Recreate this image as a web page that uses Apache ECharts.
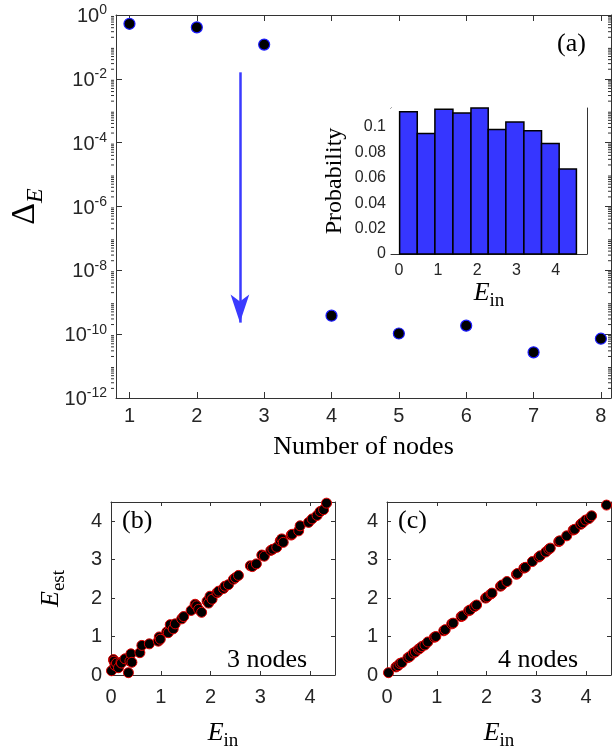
<!DOCTYPE html>
<html>
<head>
<meta charset="utf-8">
<script src="https://cdn.jsdelivr.net/npm/echarts@6/dist/echarts.min.js"></script>
<style>
  html, body { margin: 0; padding: 0; background: #fff; }
  #chart { width: 613px; height: 752px; }
</style>
</head>
<body>
<div id="chart"></div>
<script>
// (a) error vs number of nodes
var nodes = [1, 2, 3, 4, 5, 6, 7, 8];
var deltaE = [0.53, 0.41, 0.118, 3.8e-10, 1.05e-10, 1.85e-10, 2.7e-11, 7.2e-11];
var nodeTicks = [1, 2, 3, 4, 5, 6, 7, 8];
// blue arrow: x position, start and end values
var arrowX = 2.64;
var arrowFrom = 1.6e-2;
var arrowTo = 2.3e-10;

// inset histogram of E_in
var binEdges = [0.02, 0.47, 0.92, 1.38, 1.84, 2.28, 2.73, 3.19, 3.64, 4.09, 4.53];
var binProb = [0.112, 0.095, 0.114, 0.111, 0.115, 0.098, 0.104, 0.097, 0.087, 0.067];
var insetXTicks = [0, 1, 2, 3, 4];
var insetYTicks = [0, 0.02, 0.04, 0.06, 0.08, 0.1];

// (b) 3 nodes
var ein3 = [0.01, 0.05, 0.06, 0.08, 0.11, 0.15, 0.2, 0.21, 0.28, 0.35, 0.38, 0.40, 0.42, 0.58, 0.62, 0.77, 0.95, 0.97, 0.99, 1.12,
    1.15, 1.19, 1.25, 1.29, 1.42, 1.46, 1.61, 1.69, 1.72, 1.76, 1.82, 1.93, 1.96, 1.99, 2.03, 2.13, 2.16, 2.26, 2.29, 2.36,
    2.46, 2.5, 2.56, 2.8, 2.84, 2.92, 3.03, 3.08, 3.21, 3.25, 3.33, 3.4, 3.43, 3.46, 3.62, 3.64, 3.77, 3.8, 3.97, 4.04,
    4.14, 4.2, 4.27, 4.33];
var est3 = [0.11, 0.40, 0.36, 0.25, 0.31, 0.19, 0.33, 0.31, 0.42, 0.06, 0.36, 0.55, 0.33, 0.58, 0.77, 0.81, 0.88, 0.99, 0.93, 1.12,
    1.1, 1.31, 1.2, 1.33, 1.46, 1.52, 1.68, 1.84, 1.8, 1.71, 1.63, 1.92, 1.87, 2.05, 1.97, 2.14, 2.18, 2.25, 2.31, 2.35,
    2.49, 2.53, 2.59, 2.84, 2.82, 2.89, 3.12, 3.09, 3.24, 3.27, 3.32, 3.49, 3.54, 3.45, 3.64, 3.66, 3.75, 3.88, 3.97, 4.06,
    4.15, 4.25, 4.3, 4.47];

// (c) 4 nodes
var ein4 = [0.03, 0.18, 0.22, 0.26, 0.3, 0.42, 0.46, 0.53, 0.57, 0.63, 0.66, 0.7, 0.76, 0.82, 0.95, 0.98, 1.14, 1.17, 1.3, 1.33,
    1.49, 1.52, 1.64, 1.67, 1.76, 1.8, 1.98, 2.01, 2.09, 2.11, 2.28, 2.31, 2.41, 2.6, 2.62, 2.75, 2.78, 2.92, 3.05, 3.08,
    3.19, 3.25, 3.28, 3.45, 3.47, 3.61, 3.74, 3.77, 3.89, 3.93, 3.99, 4.06, 4.11, 4.41];
var est4 = [0.06, 0.21, 0.24, 0.3, 0.32, 0.45, 0.48, 0.57, 0.6, 0.67, 0.69, 0.74, 0.78, 0.86, 0.98, 1.0, 1.15, 1.18, 1.33, 1.35,
    1.52, 1.54, 1.67, 1.69, 1.78, 1.82, 2.0, 2.03, 2.11, 2.13, 2.31, 2.34, 2.43, 2.62, 2.64, 2.78, 2.8, 2.95, 3.07, 3.1,
    3.2, 3.27, 3.3, 3.47, 3.49, 3.62, 3.77, 3.79, 3.92, 3.96, 4.03, 4.07, 4.14, 4.42];
var estTicks = [0, 1, 2, 3, 4];

var axisCol = '#333';
var sans = 'Liberation Sans, Arial, sans-serif';
var serif = 'Liberation Serif, Times New Roman, serif';

var chart = echarts.init(document.getElementById('chart'));

function zip(a, b) {
    var out = [];
    for (var i = 0; i < a.length; i++) out.push([a[i], b[i]]);
    return out;
}

var histData = [];
for (var i = 0; i < binProb.length; i++) {
    histData.push([binEdges[i], binEdges[i + 1], binProb[i]]);
}

// rich text for axis names
var einRich = {
    e: { fontFamily: serif, fontStyle: 'italic', fontSize: 26, color: '#000', verticalAlign: 'bottom', padding: [0, 0, 5, 0] },
    s: { fontFamily: serif, fontSize: 19, color: '#000', verticalAlign: 'bottom' }
};

function boxAxis(grid, pos, opts) {
    // mirror axis for the top / right box edges
    var ax = {
        gridIndex: grid, type: opts.type || 'value', position: pos,
        min: opts.min, max: opts.max,
        axisLine: { show: true, onZero: false, lineStyle: { color: axisCol, width: 1 } },
        axisTick: { show: true, inside: true, length: opts.tickLen || 5, lineStyle: { color: axisCol } },
        axisLabel: { show: false },
        splitLine: { show: false }
    };
    if (opts.ticks) ax.axisTick.customValues = opts.ticks;
    if (opts.interval) ax.interval = opts.interval;
    if (opts.type === 'log') ax.logBase = 10;
    return ax;
}

function mainAxis(grid, pos, opts) {
    var ax = boxAxis(grid, pos, opts);
    ax.axisLabel = {
        show: true, margin: opts.margin || 8, fontFamily: sans, fontSize: opts.fontSize || 20, color: '#262626'
    };
    if (opts.ticks) ax.axisLabel.customValues = opts.ticks;
    if (opts.formatter) ax.axisLabel.formatter = opts.formatter;
    if (opts.rich) ax.axisLabel.rich = opts.rich;
    return ax;
}

var xAxes = [
    mainAxis(0, 'bottom', { min: 0.8, max: 8.15, ticks: nodeTicks, tickLen: 6 }),
    boxAxis(0, 'top', { min: 0.8, max: 8.15, ticks: nodeTicks, tickLen: 6 }),
    mainAxis(1, 'bottom', { min: -0.2, max: 4.8, ticks: insetXTicks, fontSize: 16, tickLen: 3, margin: 9 }),
    boxAxis(1, 'top', { min: -0.2, max: 4.8, ticks: insetXTicks, tickLen: 3 }),
    mainAxis(2, 'bottom', { min: 0, max: 4.5, ticks: estTicks, tickLen: 4, margin: 12 }),
    boxAxis(2, 'top', { min: 0, max: 4.5, ticks: estTicks, tickLen: 4 }),
    mainAxis(3, 'bottom', { min: 0, max: 4.5, ticks: estTicks, tickLen: 4, margin: 12 }),
    boxAxis(3, 'top', { min: 0, max: 4.5, ticks: estTicks, tickLen: 4 })
];
xAxes[0].name = 'Number of nodes';
xAxes[0].nameLocation = 'middle';
xAxes[0].nameGap = 36;
xAxes[0].nameTextStyle = { fontFamily: serif, fontSize: 26, color: '#000' };
[2, 4, 6].forEach(function (k) {
    xAxes[k].name = '{e|E}{s|in}';
    xAxes[k].nameLocation = 'middle';
    xAxes[k].nameGap = k === 2 ? 26 : 45;
    xAxes[k].nameTextStyle = { rich: einRich };
});

var yAxes = [
    mainAxis(0, 'left', {
        type: 'log', min: 1e-12, max: 1, interval: 2, tickLen: 6, margin: 9,
        formatter: function (v) {
            return '{b|10}{s|' + Math.round(Math.log(v) / Math.LN10) + '}';
        },
        rich: {
            b: { fontFamily: sans, fontSize: 20, color: '#262626', verticalAlign: 'bottom' },
            s: { fontFamily: sans, fontSize: 14, color: '#262626', verticalAlign: 'bottom', padding: [0, 0, 9, 0] }
        }
    }),
    boxAxis(0, 'right', { type: 'log', min: 1e-12, max: 1, interval: 2, tickLen: 6 }),
    mainAxis(1, 'left', {
        min: 0, max: 0.115, ticks: insetYTicks, fontSize: 16, tickLen: 3, margin: 5,
        formatter: function (v) { return String(v); }
    }),
    boxAxis(1, 'right', { min: 0, max: 0.115, ticks: insetYTicks, tickLen: 3 }),
    mainAxis(2, 'left', { min: 0, max: 4.5, ticks: estTicks, tickLen: 4, margin: 9 }),
    boxAxis(2, 'right', { min: 0, max: 4.5, ticks: estTicks, tickLen: 4 }),
    mainAxis(3, 'left', { min: 0, max: 4.5, ticks: estTicks, tickLen: 4, margin: 9 }),
    boxAxis(3, 'right', { min: 0, max: 4.5, ticks: estTicks, tickLen: 4 })
];
yAxes[0].name = '{d|Δ}{e|E}';
yAxes[0].nameLocation = 'middle';
yAxes[0].nameRotate = 90;
yAxes[0].nameGap = 68;
yAxes[0].nameTextStyle = {
    rich: {
        d: { fontFamily: serif, fontSize: 34, color: '#000', verticalAlign: 'bottom', padding: [0, 0, 6, 0] },
        e: { fontFamily: serif, fontStyle: 'italic', fontSize: 24, color: '#000', verticalAlign: 'bottom' }
    }
};
yAxes[2].name = 'Probability';
yAxes[2].nameLocation = 'middle';
yAxes[2].nameRotate = 90;
yAxes[2].nameGap = 44;
yAxes[2].nameTextStyle = { fontFamily: serif, fontSize: 24, color: '#000' };
yAxes[4].name = '{e|E}{s|est}';
yAxes[4].nameLocation = 'middle';
yAxes[4].nameRotate = 90;
yAxes[4].nameGap = 42;
yAxes[4].nameTextStyle = { rich: einRich };

var scatterStyle = { color: '#000', borderColor: '#e00000', borderWidth: 1, opacity: 1 };

var option = {
    animation: false,
    backgroundColor: '#fff',
    grid: [
        { left: 111, top: 15, width: 500, height: 383 },
        { left: 391, top: 108, width: 196, height: 146, show: true, backgroundColor: '#fff', borderWidth: 0, z: 5 },
        { left: 111, top: 502, width: 224, height: 177 },
        { left: 387, top: 502, width: 224, height: 177 }
    ],
    xAxis: xAxes,
    yAxis: yAxes,
    series: [
        {
            type: 'scatter', xAxisIndex: 0, yAxisIndex: 0,
            data: zip(nodes, deltaE),
            symbolSize: 11,
            itemStyle: { color: '#000', borderColor: '#1a1aff', borderWidth: 1.2, opacity: 1 },
            markLine: {
                silent: true,
                symbol: ['none', 'arrow'],
                symbolSize: [14, 28],
                label: { show: false },
                lineStyle: { color: '#3a3aff', width: 2.5, type: 'solid', opacity: 1 },
                data: [[{ coord: [arrowX, arrowFrom] }, { coord: [arrowX, arrowTo] }]]
            }
        },
        {
            type: 'custom', xAxisIndex: 2, yAxisIndex: 2, z: 6,
            data: histData,
            renderItem: function (params, api) {
                var a = api.coord([api.value(0), api.value(2)]);
                var b = api.coord([api.value(1), 0]);
                return {
                    type: 'rect',
                    shape: { x: a[0], y: a[1], width: b[0] - a[0], height: b[1] - a[1] },
                    style: { fill: '#3636ff', stroke: '#000', lineWidth: 1.5 }
                };
            }
        },
        {
            type: 'scatter', xAxisIndex: 4, yAxisIndex: 4,
            data: zip(ein3, est3), symbolSize: 10, itemStyle: scatterStyle
        },
        {
            type: 'scatter', xAxisIndex: 6, yAxisIndex: 6,
            data: zip(ein4, est4), symbolSize: 10, itemStyle: scatterStyle
        }
    ],
    graphic: [
        { type: 'text', left: 557, top: 31, style: { text: '(a)', font: '26px ' + serif, fill: '#000' } },
        { type: 'text', left: 122, top: 508, style: { text: '(b)', font: '26px ' + serif, fill: '#000' } },
        { type: 'text', left: 398, top: 508, style: { text: '(c)', font: '26px ' + serif, fill: '#000' } },
        { type: 'text', left: 227, top: 647, style: { text: '3 nodes', font: '26px ' + serif, fill: '#000' } },
        { type: 'text', left: 498, top: 647, style: { text: '4 nodes', font: '26px ' + serif, fill: '#000' } }
    ]
};

chart.setOption(option);

// minor ticks of the log axis (2..9 x 10^k), on both box edges
var minor = [];
for (var k = -12; k < 0; k++) {
    for (var m = 2; m <= 9; m++) {
        var y = chart.convertToPixel({ yAxisIndex: 0 }, m * Math.pow(10, k));
        minor.push({ type: 'line', shape: { x1: 111, y1: y, x2: 114, y2: y }, style: { stroke: axisCol, lineWidth: 1 }, silent: true });
        minor.push({ type: 'line', shape: { x1: 611, y1: y, x2: 608, y2: y }, style: { stroke: axisCol, lineWidth: 1 }, silent: true });
    }
}
chart.setOption({ graphic: option.graphic.concat(minor) });
</script>
</body>
</html>
